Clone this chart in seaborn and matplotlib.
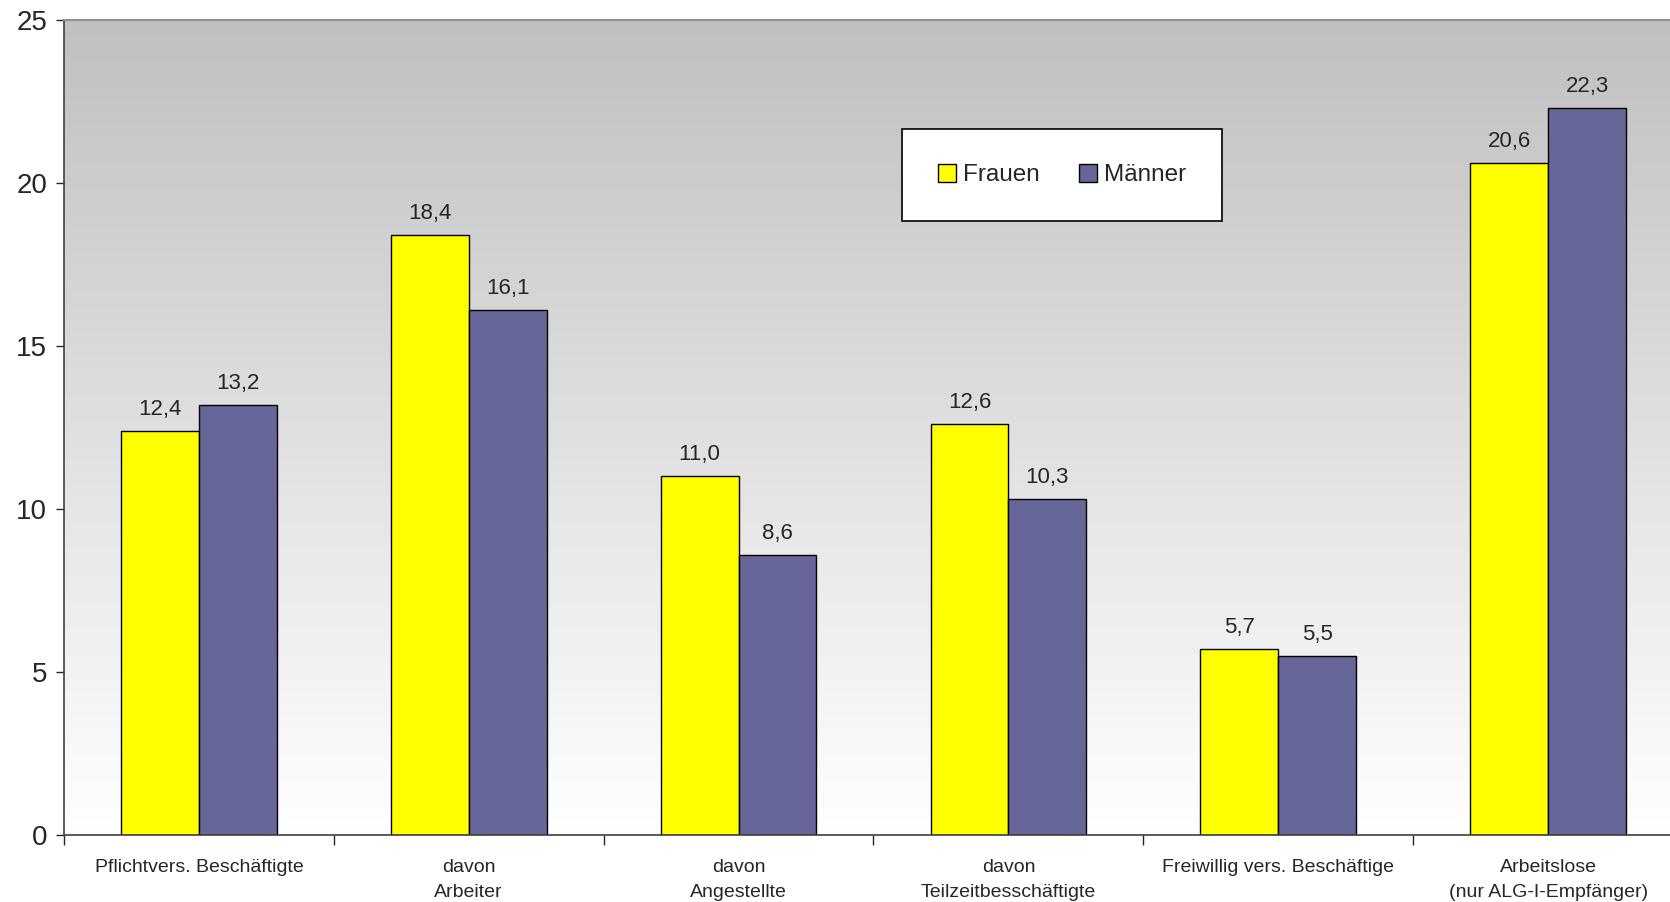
import numpy as np
import pandas as pd
import matplotlib
matplotlib.use('Agg')
import matplotlib.pyplot as plt
from matplotlib.colors import LinearSegmentedColormap
import seaborn as sns

# Daten
kategorien = ['Pflichtvers. Beschäftigte', 'davon\nArbeiter', 'davon\nAngestellte',
              'davon\nTeilzeitbesschäftigte', 'Freiwillig vers. Beschäftige',
              'Arbeitslose\n(nur ALG-I-Empfänger)']
frauen = [12.4, 18.4, 11.0, 12.6, 5.7, 20.6]
maenner = [13.2, 16.1, 8.6, 10.3, 5.5, 22.3]
y_ticks = [0, 5, 10, 15, 20, 25]

df = pd.DataFrame({
    'kategorie': kategorien * 2,
    'wert': frauen + maenner,
    'geschlecht': ['Frauen'] * len(frauen) + ['Männer'] * len(maenner),
})

sns.set_style('white')
plt.rcParams['font.family'] = ['Liberation Sans', 'DejaVu Sans']

fig = plt.figure(figsize=(16.7, 9.02), dpi=100)
ax = fig.add_axes([64 / 1670, 67 / 902, (1683 - 64) / 1670, (835 - 20) / 902])

# Hintergrundverlauf grau -> weiß
cmap = LinearSegmentedColormap.from_list('bg', ['#ffffff', '#c0c0c0'])
grad = np.linspace(0, 1, 256).reshape(-1, 1)
ax.imshow(grad, cmap=cmap, origin='lower', aspect='auto',
          extent=(-0.5, 5.5, 0, 25), zorder=0)

sns.barplot(data=df, x='kategorie', y='wert', hue='geschlecht', ax=ax,
            palette=['#ffff00', '#666699'], width=0.577, edgecolor='black',
            linewidth=1, saturation=1, zorder=2)

for cont in ax.containers:
    ax.bar_label(cont, labels=[f'{v:.1f}'.replace('.', ',') for v in cont.datavalues],
                 padding=8, fontsize=16)

ax.set_xlim(-0.5, 5.5)
ax.set_ylim(0, 25)
ax.set_yticks(y_ticks)
ax.tick_params(axis='y', labelsize=20, length=6, width=1, direction='out', left=True, pad=6)
ax.set_xticks(range(len(kategorien)))
ax.set_xticklabels(kategorien, fontsize=14, linespacing=1.62)
ax.tick_params(axis='x', which='major', length=0, pad=17)
ax.set_xticks(np.arange(-0.5, 6, 1), minor=True)
ax.tick_params(axis='x', which='minor', length=7, width=1, bottom=True, direction='out')
ax.set_xlabel('')
ax.set_ylabel('')

for s in ['left', 'bottom']:
    ax.spines[s].set_color('#404040')
    ax.spines[s].set_linewidth(1.2)
ax.spines['top'].set_color('#909090')
ax.spines['top'].set_linewidth(1.5)
ax.spines['right'].set_visible(False)

leg = ax.legend(loc='center', bbox_to_anchor=(1062 / 1670, 1 - 175 / 902),
                bbox_transform=fig.transFigure, ncol=2, fontsize=17.5,
                frameon=True, fancybox=False, edgecolor='black', framealpha=1,
                handlelength=0.75, handleheight=0.75, handletextpad=0.3,
                columnspacing=1.6, borderpad=1.45, title=None)
leg.get_frame().set_linewidth(1.2)

fig.savefig('out.png', dpi=100)
